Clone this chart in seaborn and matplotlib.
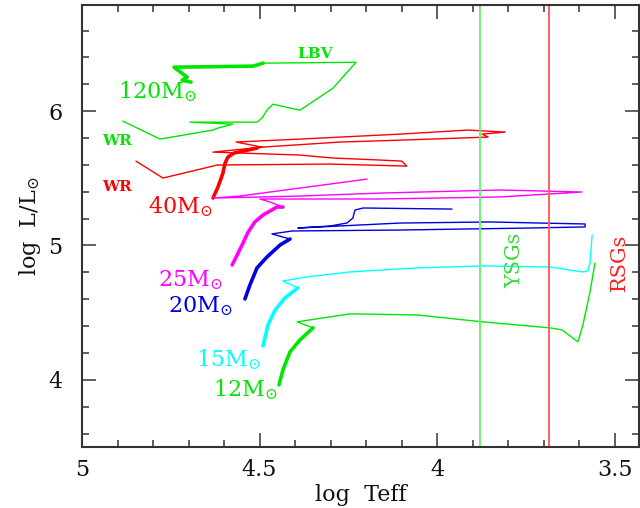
import numpy as np
import pandas as pd
import matplotlib
matplotlib.use("Agg")
import matplotlib.pyplot as plt
from matplotlib.ticker import MultipleLocator
import seaborn as sns

# ---------------- data (log Teff, log L/Lsun) ----------------
# 120 Msun track
m120_ms_T = [4.693, 4.718, 4.704, 4.741, 4.518, 4.490]
m120_ms_L = [6.216, 6.230, 6.253, 6.327, 6.335, 6.357]
m120_post_T = [4.490, 4.228, 4.293, 4.386, 4.462, 4.479, 4.493, 4.507, 4.696,
               4.575, 4.617, 4.631, 4.780, 4.885]
m120_post_L = [6.357, 6.364, 6.171, 6.007, 6.052, 6.007, 5.948, 5.918, 5.918,
               5.903, 5.874, 5.859, 5.792, 5.926]

# 40 Msun track
m40_ms_T = [4.631, 4.617, 4.603, 4.597, 4.589, 4.572, 4.546, 4.507]
m40_ms_L = [5.353, 5.435, 5.539, 5.613, 5.658, 5.688, 5.703, 5.725]
m40_post_T = [4.507, 4.493, 4.566, 4.386, 4.104, 3.913, 3.808, 3.873, 3.856,
              4.104, 4.273, 4.493, 4.631, 4.386, 4.293, 4.161, 4.099, 4.085,
              4.301, 4.620, 4.631, 4.772, 4.848]
m40_post_L = [5.725, 5.732, 5.770, 5.792, 5.829, 5.859, 5.844, 5.829, 5.807,
              5.784, 5.770, 5.732, 5.695, 5.673, 5.651, 5.636, 5.628, 5.591,
              5.606, 5.599, 5.591, 5.502, 5.628]

# 25 Msun track
m25_ms_T = [4.577, 4.563, 4.549, 4.532, 4.513, 4.490, 4.451, 4.434]
m25_ms_L = [4.855, 4.929, 5.004, 5.100, 5.175, 5.227, 5.286, 5.286]
m25_post_T = [4.434, 4.470, 4.499, 4.161, 3.823, 3.592, 3.823, 4.161, 4.386,
              4.631, 4.555, 4.197]
m25_post_L = [5.286, 5.323, 5.346, 5.346, 5.361, 5.398, 5.413, 5.390, 5.368,
              5.353, 5.368, 5.494]

# 20 Msun track
m20_ms_T = [4.541, 4.527, 4.507, 4.479, 4.442, 4.414]
m20_ms_L = [4.602, 4.706, 4.833, 4.914, 5.004, 5.048]
m20_post_T = [4.414, 4.465, 4.408, 4.104, 3.738, 3.583, 3.583, 3.851, 4.104,
              4.392, 4.301, 4.254, 4.237, 4.231, 4.208, 3.958]
m20_post_L = [5.048, 5.086, 5.108, 5.115, 5.130, 5.138, 5.160, 5.175, 5.167,
              5.130, 5.145, 5.167, 5.204, 5.264, 5.279, 5.271]

# 15 Msun track
m15_ms_T = [4.490, 4.476, 4.456, 4.428, 4.392]
m15_ms_L = [4.253, 4.409, 4.520, 4.610, 4.684]
m15_post_T = [4.392, 4.434, 4.366, 4.245, 4.056, 3.870, 3.682, 3.589, 3.575,
              3.569, 3.563]
m15_post_L = [4.684, 4.736, 4.766, 4.803, 4.833, 4.848, 4.840, 4.803, 4.810,
              4.870, 5.078]

# 12 Msun track
m12_ms_T = [4.445, 4.434, 4.414, 4.386, 4.349]
m12_ms_L = [3.963, 4.074, 4.208, 4.297, 4.387]
m12_post_T = [4.349, 4.394, 4.358, 4.245, 4.056, 3.870, 3.682, 3.648, 3.603,
              3.589, 3.569, 3.555]
m12_post_L = [4.387, 4.431, 4.446, 4.491, 4.483, 4.431, 4.387, 4.372, 4.283,
              4.409, 4.654, 4.870]

track_names = ["120", "40", "25", "20", "15", "12"]
track_colors = ["#00e600", "#ff0000", "#ff00ff", "#0000e0", "#00ffff", "#00e600"]
ms_T = [m120_ms_T, m40_ms_T, m25_ms_T, m20_ms_T, m15_ms_T, m12_ms_T]
ms_L = [m120_ms_L, m40_ms_L, m25_ms_L, m20_ms_L, m15_ms_L, m12_ms_L]
post_T = [m120_post_T, m40_post_T, m25_post_T, m20_post_T, m15_post_T, m12_post_T]
post_L = [m120_post_L, m40_post_L, m25_post_L, m20_post_L, m15_post_L, m12_post_L]

# mass labels (position in data coords)
label_T = [4.789, 4.724, 4.696, 4.668, 4.589, 4.541]
label_L = [6.141, 5.286, 4.744, 4.550, 4.149, 3.926]

# region lines
ysg_T = 3.880
rsg_T = 3.685

# ---------------- plot ----------------
sns.set_theme(style="ticks")
plt.rcParams['font.family'] = ['DejaVu Serif']
plt.rcParams['mathtext.fontset'] = 'dejavuserif'

fig = plt.figure(figsize=(6.4, 5.08), dpi=100)
ax = fig.add_axes([82 / 640, 1 - 447 / 508, 557 / 640, 442 / 508])

for name, col, mt, ml, pt, pl in zip(track_names, track_colors, ms_T, ms_L, post_T, post_L):
    sns.lineplot(x=pt, y=pl, sort=False, estimator=None, color=col, lw=1.0, ax=ax)
    sns.lineplot(x=mt, y=ml, sort=False, estimator=None, color=col, lw=2.6, ax=ax)

for name, col, tx, ty in zip(track_names, track_colors, label_T, label_L):
    ax.text(tx, ty, name + r"M$_{\odot}$", color=col, fontsize=16,
            ha="center", va="center")

ax.axvline(ysg_T, color="#70f070", lw=1.4)
ax.axvline(rsg_T, color="#ff6060", lw=1.4)

ax.text(3.780, 4.89, "YSGs", color="#33dd33", fontsize=15, rotation=90,
        ha="center", va="center")
ax.text(3.485, 4.877, "RSGs", color="#ff2020", fontsize=15, rotation=90,
        ha="center", va="center")
ax.text(4.901, 5.777, "WR", color="#00e600", fontsize=11, ha="center", va="center",
        fontweight="bold")
ax.text(4.901, 5.435, "WR", color="#ff0000", fontsize=11, ha="center", va="center",
        fontweight="bold")
ax.text(4.344, 6.424, "LBV", color="#00e600", fontsize=11, ha="center", va="center",
        fontweight="bold")

ax.set_xlim(5.0, 3.431)
ax.set_ylim(3.50, 6.79)
ax.xaxis.set_major_locator(MultipleLocator(0.5))
ax.xaxis.set_minor_locator(MultipleLocator(0.1))
ax.yaxis.set_major_locator(MultipleLocator(1.0))
ax.yaxis.set_minor_locator(MultipleLocator(0.2))
ax.tick_params(which="both", direction="in", top=True, right=True,
               color="#444444", width=1.2, labelsize=16, labelcolor="#111111")
ax.tick_params(which="major", length=10)
ax.tick_params(which="minor", length=5)
ax.tick_params(axis="x", pad=9)
ax.tick_params(axis="y", pad=14)
ax.set_xticks([5, 4.5, 4, 3.5])
ax.set_xticklabels(["5", "4.5", "4", "3.5"])
ax.set_yticks([4, 5, 6])
for s in ax.spines.values():
    s.set_color("#333333")
    s.set_linewidth(1.5)

ax.set_xlabel("log  Teff", fontsize=16, color="#111111", labelpad=2)
ax.set_ylabel(r"log  L/L$_{\odot}$", fontsize=16, color="#111111", labelpad=4)

fig.savefig("out.png", dpi=100)
